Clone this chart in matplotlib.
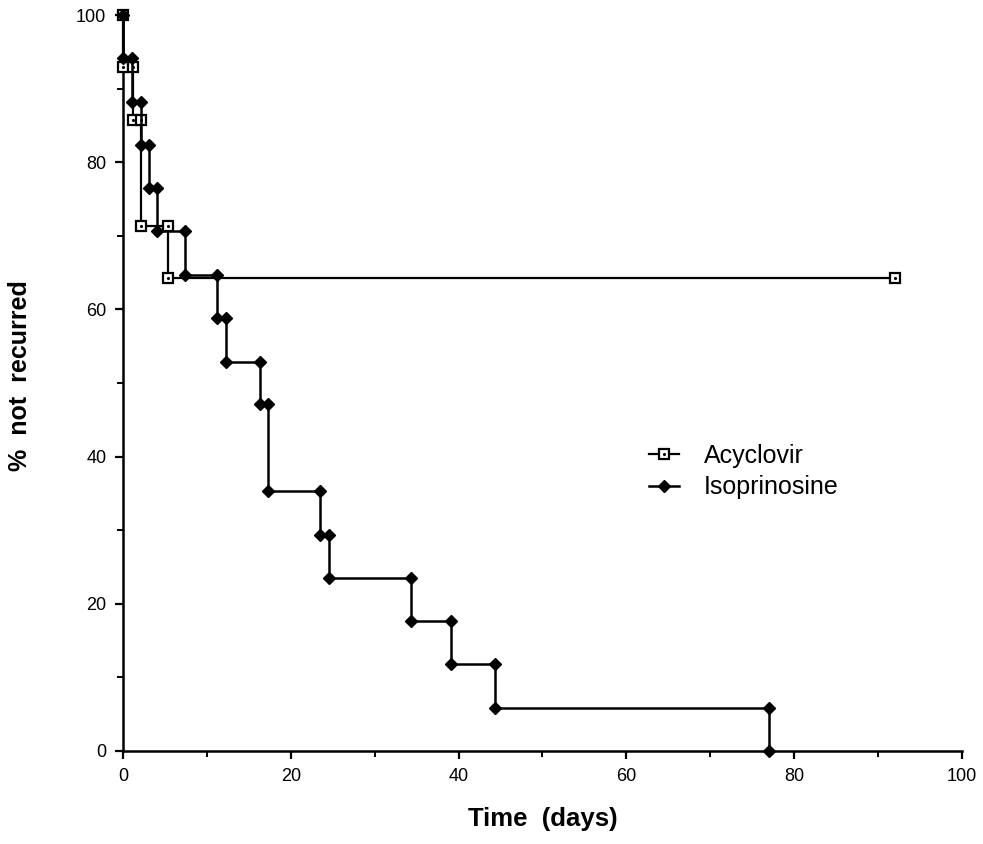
import matplotlib.pyplot as plt
import numpy as np

plt.rcParams['font.family'] = ['Liberation Sans', 'DejaVu Sans']

# Kaplan-Meier event times (days) and % not recurred after each event
acy_times = [0, 1.15, 2.1, 5.4]
acy_surv = [92.9, 85.7, 71.4, 64.3]
acy_end = 92.0

iso_times = [0, 1.1, 2.15, 3.1, 4.1, 7.4, 11.2, 12.3, 16.3, 17.3,
             23.5, 24.5, 34.3, 39.1, 44.3, 77.0]
iso_surv = [94.1, 88.2, 82.4, 76.5, 70.6, 64.7, 58.8, 52.9, 47.1, 35.3,
            29.4, 23.5, 17.6, 11.8, 5.9, 0.0]

x_ticks = [0, 20, 40, 60, 80, 100]
y_ticks = [0, 20, 40, 60, 80, 100]


def km_path(times, surv, end=None):
    xs, ys = [], []
    prev = 100.0
    for t, s in zip(times, surv):
        xs += [t, t]
        ys += [prev, s]
        prev = s
    if end is not None:
        xs.append(end)
        ys.append(prev)
    return np.array(xs), np.array(ys)


fig = plt.figure(figsize=(9.83, 8.44), dpi=100)
ax = fig.add_axes([0.1251, 0.1102, 0.8535, 0.872])

ax_x, ax_y = km_path(acy_times, acy_surv, acy_end)
iso_x, iso_y = km_path(iso_times, iso_surv)

acy_line, = ax.plot(ax_x, ax_y, color='black', lw=1.6, marker='s', ms=7,
                    mfc='white', mec='black', mew=1.6, clip_on=False, zorder=3)
acy_dot, = ax.plot(ax_x, ax_y, ls='none', marker='.', ms=2.5, color='black',
                   clip_on=False, zorder=4)
iso_line, = ax.plot(iso_x, iso_y, color='black', lw=1.8, marker='D', ms=6.5,
                    mfc='black', mec='black', clip_on=False, zorder=5)

ax.set_xlim(0, 100)
ax.set_ylim(0, 100)
ax.set_xticks(x_ticks)
ax.set_yticks(y_ticks)
ax.set_xticks(np.arange(10, 100, 20), minor=True)
ax.set_yticks(np.arange(10, 100, 20), minor=True)
ax.tick_params(which='major', direction='out', length=6, width=1.6, labelsize=13, pad=6)
ax.tick_params(which='minor', direction='out', length=4, width=1.4)

for side in ['top', 'right']:
    ax.spines[side].set_visible(False)
for side in ['left', 'bottom']:
    ax.spines[side].set_linewidth(1.8)

ax.set_xlabel('Time  (days)', fontsize=18.5, fontweight='bold', labelpad=16)
ax.set_ylabel('%  not  recurred', fontsize=18, fontweight='bold')
ax.yaxis.set_label_coords(-0.108, 0.51)

ax.legend([(acy_line, acy_dot), iso_line], ['Acyclovir', 'Isoprinosine'],
          loc='upper left', bbox_to_anchor=(0.615, 0.431), frameon=False,
          fontsize=18, handlelength=1.2, handletextpad=1.0, labelspacing=0.3,
          borderaxespad=0.0)

fig.savefig('out.png', dpi=100)
